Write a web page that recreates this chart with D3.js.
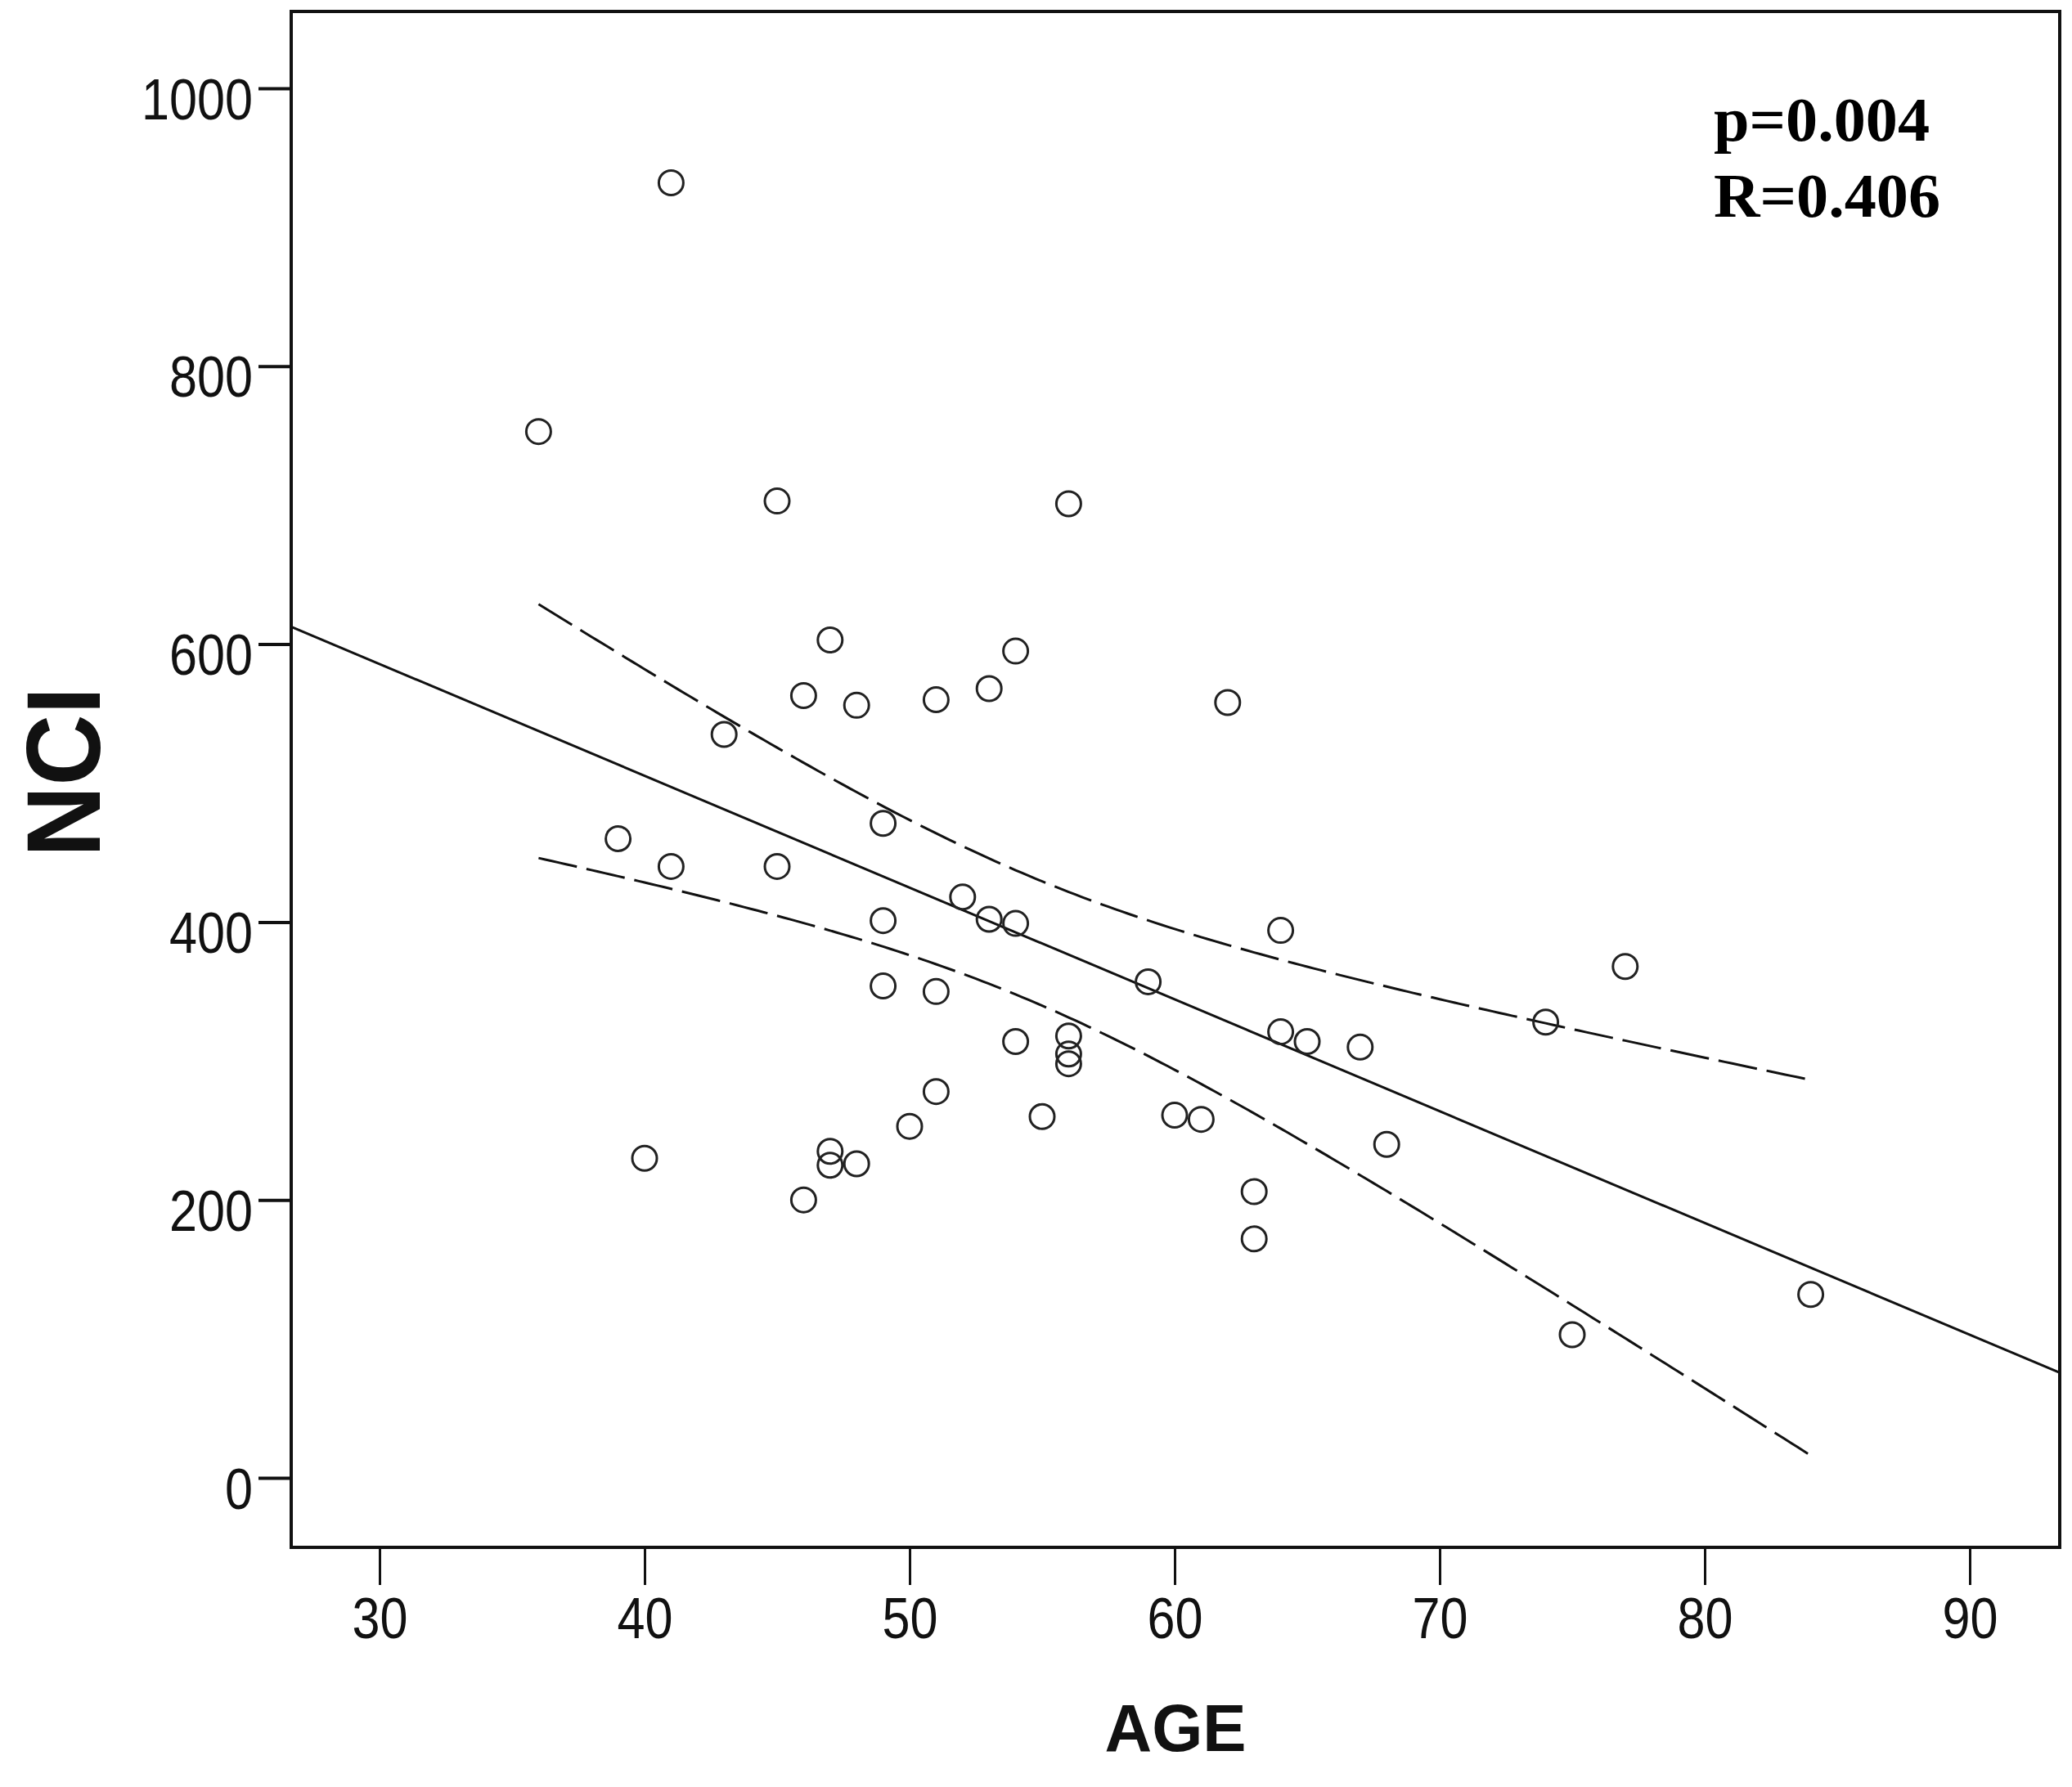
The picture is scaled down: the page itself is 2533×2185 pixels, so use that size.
<!DOCTYPE html>
<html>
<head>
<meta charset="utf-8">
<script src="https://cdn.jsdelivr.net/npm/d3@7"></script>
<style>
  body { margin: 0; background: #fff; }
  svg { display: block; }
</style>
</head>
<body>
<svg></svg>
<script>
// ages and NCI values
let ages = [36, 41, 45, 56, 47, 54, 46, 48, 51, 53, 62, 43, 49, 39, 41, 45,
            52, 49, 53, 54, 64, 77, 59, 49, 51, 74, 56, 64, 65, 54, 67, 56,
            56, 51, 55, 50, 60, 61, 68, 40, 47, 47, 48, 46, 63, 63, 75, 84];
let nci  = [753, 932, 703, 701, 603, 595, 563, 556, 560, 568, 558, 535, 471, 460, 440, 440,
            418, 401, 402, 399, 394, 368, 357, 354, 350, 328, 318, 321, 314, 314, 310, 305,
            298, 278, 260, 253, 261, 258, 240, 230, 235, 225, 226, 200, 206, 172, 103, 132];

let xTicks = [30, 40, 50, 60, 70, 80, 90];
let yTicks = [0, 200, 400, 600, 800, 1000];
let statLines = ["p=0.004", "R=0.406"];

let tCrit = 2.013; // t(0.975, df = 46)

let width = 2533;
let height = 2185;
let box = {left: 356, right: 2518, top: 14, bottom: 1892};

let svg = d3.select("svg")
            .attr("width", width)
            .attr("height", height);

let xScale = d3.scaleLinear().domain([30, 90]).range([464, 2408]);
let yScale = d3.scaleLinear().domain([0, 1000]).range([1807, 108]);

let points = ages.map((a, i) => ({age: a, nci: nci[i]}));

// least squares fit + 95% band for the mean
let n = points.length;
let xbar = d3.mean(ages);
let ybar = d3.mean(nci);
let sxx = d3.sum(ages, a => (a - xbar) * (a - xbar));
let sxy = d3.sum(points, d => (d.age - xbar) * (d.nci - ybar));
let slope = sxy / sxx;
let icpt = ybar - slope * xbar;
let sse = d3.sum(points, d => Math.pow(d.nci - (icpt + slope * d.age), 2));
let se = Math.sqrt(sse / (n - 2));
let fit = a => icpt + slope * a;
let half = a => tCrit * se * Math.sqrt(1 / n + (a - xbar) * (a - xbar) / sxx);

let line = d3.line().x(d => xScale(d[0])).y(d => yScale(d[1]));

// regression line across the whole frame
let xLo = xScale.invert(box.left);
let xHi = xScale.invert(box.right);
svg.append("path")
   .attr("d", line([[xLo, fit(xLo)], [xHi, fit(xHi)]]))
   .attr("fill", "none")
   .attr("stroke", "#111")
   .attr("stroke-width", 3);

let bandAges = d3.range(d3.min(ages), d3.max(ages) + 0.01, 0.25);
[1, -1].forEach(sign => {
    svg.append("path")
       .attr("d", line(bandAges.map(a => [a, fit(a) + sign * half(a)])))
       .attr("fill", "none")
       .attr("stroke", "#111")
       .attr("stroke-width", 3)
       .attr("stroke-dasharray", "48,12");
});

svg.selectAll("circle")
   .data(points)
   .enter()
   .append("circle")
   .attr("cx", d => xScale(d.age))
   .attr("cy", d => yScale(d.nci))
   .attr("r", 15)
   .attr("fill", "none")
   .attr("stroke", "#222")
   .attr("stroke-width", 3);

// frame
svg.append("rect")
   .attr("x", box.left)
   .attr("y", box.top)
   .attr("width", box.right - box.left)
   .attr("height", box.bottom - box.top)
   .attr("fill", "none")
   .attr("stroke", "#111")
   .attr("stroke-width", 4);

let yAxis = d3.axisLeft(yScale)
              .tickValues(yTicks)
              .tickSize(40)
              .tickPadding(7)
              .tickFormat(d3.format("d"));

let gy = svg.append("g")
            .attr("transform", `translate(${box.left}, 0)`)
            .call(yAxis);

let xAxis = d3.axisBottom(xScale)
              .tickValues(xTicks)
              .tickSize(46)
              .tickFormat(d3.format("d"));

let gx = svg.append("g")
            .attr("transform", `translate(0, ${box.bottom})`)
            .call(xAxis);

[gx, gy].forEach(g => {
    g.select(".domain").remove();
    g.selectAll("text")
     .attr("font-family", "'Liberation Sans', Arial, sans-serif")
     .attr("font-size", 70)
     .attr("fill", "#111")
     .attr("lengthAdjust", "spacingAndGlyphs")
     .attr("textLength", d => String(d).length * 34);
});
gy.selectAll(".tick line").attr("stroke", "#111").attr("stroke-width", 4);
gx.selectAll(".tick line").attr("stroke", "#111").attr("stroke-width", 3);
gy.selectAll("text").attr("dy", 37);
gx.selectAll("text").attr("y", 111).attr("dy", 0);

svg.append("text")
   .attr("x", (box.left + box.right) / 2)
   .attr("y", 2141)
   .attr("text-anchor", "middle")
   .attr("font-family", "'Liberation Sans', Arial, sans-serif")
   .attr("font-weight", "bold")
   .attr("font-size", 82)
   .attr("lengthAdjust", "spacingAndGlyphs")
   .attr("textLength", 173)
   .attr("fill", "#111")
   .text("AGE");

svg.append("text")
   .attr("transform", "translate(122, 944) rotate(-90)")
   .attr("text-anchor", "middle")
   .attr("font-family", "'Liberation Sans', Arial, sans-serif")
   .attr("font-weight", "bold")
   .attr("font-size", 128)
   .attr("lengthAdjust", "spacingAndGlyphs")
   .attr("textLength", 208)
   .attr("fill", "#111")
   .text("NCI");

svg.selectAll(".stat")
   .data(statLines)
   .enter()
   .append("text")
   .attr("class", "stat")
   .attr("x", 2095)
   .attr("y", (d, i) => 172 + i * 93)
   .attr("font-family", "'Liberation Serif', 'Times New Roman', serif")
   .attr("font-weight", "bold")
   .attr("font-size", 76)
   .attr("lengthAdjust", "spacingAndGlyphs")
   .attr("textLength", (d, i) => i === 0 ? 264 : 277)
   .attr("fill", "#000")
   .text(d => d);
</script>
</body>
</html>
